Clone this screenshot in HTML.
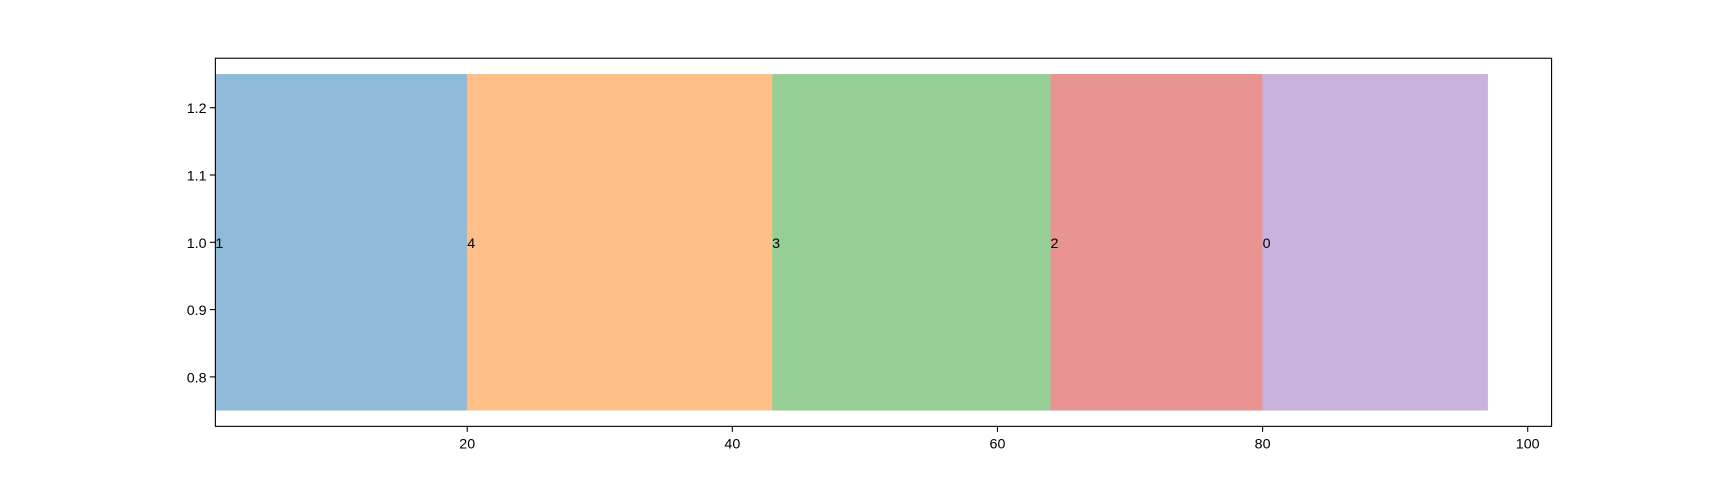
<!DOCTYPE html>
<html><head><meta charset="utf-8"><style>
body{margin:0;background:#fff;}
svg{display:block;font-family:"Liberation Sans","DejaVu Sans",sans-serif;}
</style></head><body>
<svg id="chart" width="1723" height="480">
<rect width="1723" height="480" fill="#fff"/>
<g id="bars"></g>
<g id="axes"></g>
</svg>
<script>
const categories = ["1","4","3","2","0"];
const starts = [1, 20, 43, 64, 80];
const ends = [20, 43, 64, 80, 97];
const xTicks = [20, 40, 60, 80, 100];
const yTicks = [0.8, 0.9, 1.0, 1.1, 1.2];
const colors = ["#1f77b4","#ff7f0e","#2ca02c","#d62728","#9467bd"];

const S=1723/1568;
const L=196*S,R=1412*S,T=53*S,B=388*S;
const xmin=1.0,xmax=101.8,ymin=0.7265,ymax=1.2735;
const xs=v=>L+(v-xmin)/(xmax-xmin)*(R-L);
const ys=v=>B-(v-ymin)/(ymax-ymin)*(B-T);
const FS=13*S;
const NS="http://www.w3.org/2000/svg";
const bars=document.getElementById('bars');
const axes=document.getElementById('axes');
function mk(tag,attrs,parent){const e=document.createElementNS(NS,tag);for(const k in attrs)e.setAttribute(k,attrs[k]);parent.appendChild(e);return e;}

categories.forEach((c,i)=>{
  const r=mk('rect',{x:xs(starts[i]),y:ys(1.25),width:xs(ends[i])-xs(starts[i]),height:ys(0.75)-ys(1.25),fill:colors[i],'fill-opacity':0.5},bars);
  
  
  const t=mk('text',{x:xs(starts[i]),y:ys(1.0)+5*S,'font-size':FS,fill:'#000'},bars);
  t.textContent=c;
  
  
});

const frame=mk('rect',{x:L,y:T,width:R-L,height:B-T,fill:'none',stroke:'#000','stroke-width':1.1},axes);



xTicks.forEach(v=>{
  const x=xs(v);
  const l=mk('line',{x1:x,x2:x,y1:B,y2:B+5*S,stroke:'#000','stroke-width':1.1},axes);
  
  
  const t=mk('text',{x:x,y:B+20*S,'font-size':FS,'text-anchor':'middle',fill:'#000'},axes);
  t.textContent=String(v);
  
  
});
yTicks.forEach(v=>{
  const y=ys(v);
  const l=mk('line',{x1:L-5*S,x2:L,y1:y,y2:y,stroke:'#000','stroke-width':1.1},axes);
  
  
  const t=mk('text',{x:L-8*S,y:y+5*S,'font-size':FS,'text-anchor':'end',fill:'#000'},axes);
  t.textContent=v.toFixed(1);
  
  
});
</script>
</body></html>
